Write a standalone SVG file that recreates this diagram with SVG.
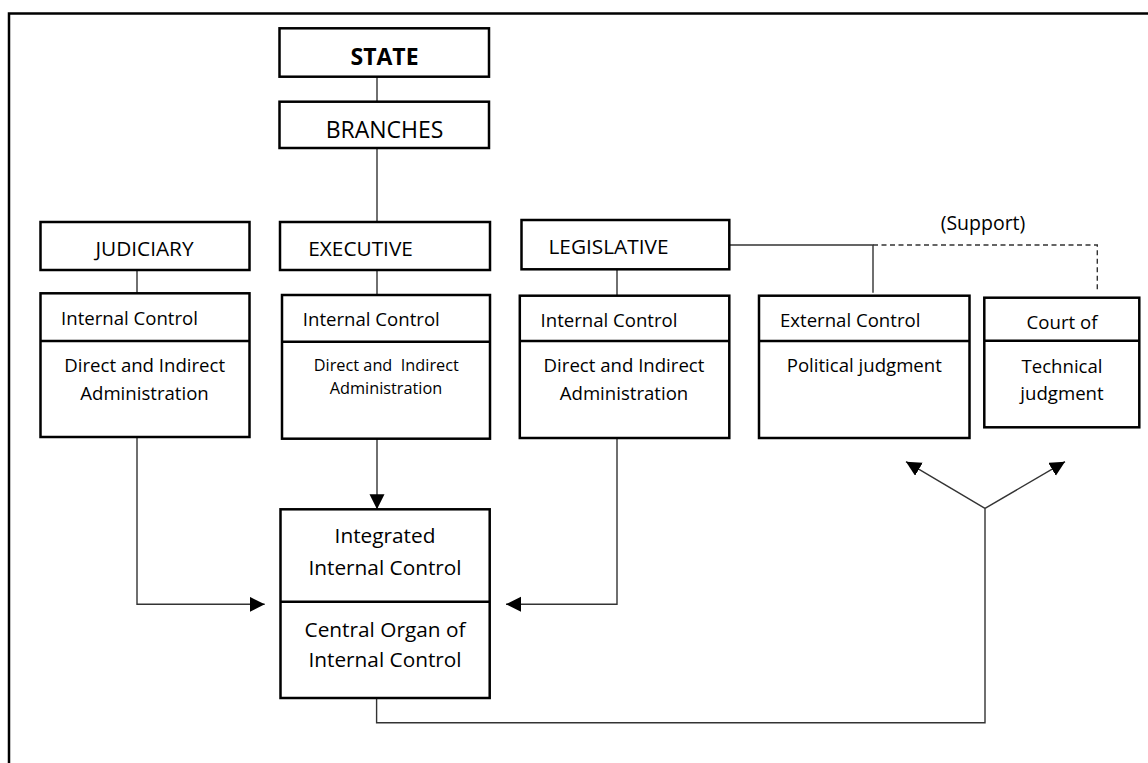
<svg xmlns="http://www.w3.org/2000/svg" width="1148" height="763" viewBox="0 0 1148 763">
<defs>
<style>
.box{fill:#fff;stroke:#000;stroke-width:2.5}
.div{stroke:#000;stroke-width:2.5;fill:none}
.ln{stroke:#333;stroke-width:1.4;fill:none}
.dash{stroke:#333;stroke-width:1.4;fill:none;stroke-dasharray:5 3.5}
text{font-family:"Open Sans","Liberation Sans",sans-serif;fill:#000;text-anchor:middle}
.big{font-size:23px}
.hd{font-size:20.8px}
.bd{font-size:18.6px}
.sm{font-size:16.3px}
</style>
<marker id="ah" markerUnits="userSpaceOnUse" markerWidth="16" markerHeight="16" refX="15" refY="7.5" orient="auto" viewBox="0 0 16 16">
<path d="M0,0 L15,7.5 L0,15 z" fill="#000"/>
</marker>
</defs>
<rect width="1148" height="763" fill="#fff"/>
<path d="M9,763 V13.5 H1148" fill="none" stroke="#000" stroke-width="2.5"/>
<g id="connectors">
<path class="ln" d="M377,77 V102"/>
<path class="ln" d="M377,148 V222"/>
<path class="ln" d="M137,270 V293"/>
<path class="ln" d="M377,270 V295"/>
<path class="ln" d="M617,269 V296"/>
<path class="ln" d="M729,245 H873 V292.7"/>
<path class="dash" d="M873,245 H1097.3 V292"/>
<path class="ln" d="M137,437 V604.3 H264.7" marker-end="url(#ah)"/>
<path class="ln" d="M377,439 V509.3" marker-end="url(#ah)"/>
<path class="ln" d="M617,438 V604.3 H506" marker-end="url(#ah)"/>
<path class="ln" d="M376.6,696 V722.7 H985 V508.3"/>
<path class="ln" d="M985,508.3 L906,461.7" marker-end="url(#ah)"/>
<path class="ln" d="M985,508.3 L1065,461.7" marker-end="url(#ah)"/>
</g>
<g id="state">
<rect class="box" x="279.5" y="28.3" width="209.5" height="48.4"/>
<text class="big" x="384.5" y="64.5" font-weight="bold">STATE</text>
</g>
<g id="branches">
<rect class="box" x="279.5" y="101.7" width="209.5" height="46.3"/>
<text class="big" x="384.6" y="138">BRANCHES</text>
</g>
<g id="judiciary">
<rect class="box" x="40.5" y="222" width="209" height="48"/>
<text class="hd" x="144.5" y="256">JUDICIARY</text>
</g>
<g id="executive">
<rect class="box" x="280" y="222" width="210" height="48"/>
<text class="hd" x="360.6" y="256">EXECUTIVE</text>
</g>
<g id="legislative">
<rect class="box" x="521.5" y="220" width="207.8" height="49.3"/>
<text class="hd" x="608.5" y="254">LEGISLATIVE</text>
</g>
<text class="bd" x="983" y="230" style="font-size:19.5px">(Support)</text>
<g id="judiciary-control">
<rect class="box" x="40.5" y="293.3" width="209" height="143.7"/>
<path class="div" d="M40.5,341 H249.5"/>
<text class="bd" x="129.5" y="325">Internal Control</text>
<text class="bd" x="144.7" y="371.7">Direct and Indirect</text>
<text class="bd" x="144.5" y="399.5">Administration</text>
</g>
<g id="executive-control">
<rect class="box" x="282" y="295" width="208" height="143.7"/>
<path class="div" d="M282,341.7 H490"/>
<text class="bd" x="371.3" y="325.5">Internal Control</text>
<text class="sm" x="386.3" y="370.5" xml:space="preserve">Direct and  Indirect</text>
<text class="sm" x="386" y="394.3">Administration</text>
</g>
<g id="legislative-control">
<rect class="box" x="519.8" y="295.7" width="209.5" height="142.3"/>
<path class="div" d="M519.8,341 H729.3"/>
<text class="bd" x="609" y="327">Internal Control</text>
<text class="bd" x="624" y="371.7">Direct and Indirect</text>
<text class="bd" x="624" y="400">Administration</text>
</g>
<g id="external-control">
<rect class="box" x="759" y="295.7" width="210.5" height="142.3"/>
<path class="div" d="M759,341 H969.5"/>
<text class="bd" x="850.2" y="327">External Control</text>
<text class="bd" x="864.3" y="371.7">Political judgment</text>
</g>
<g id="court">
<rect class="box" x="984.3" y="297.7" width="155" height="129.6"/>
<path class="div" d="M984.3,340.7 H1139.3"/>
<text class="bd" x="1062" y="328.5">Court of</text>
<text class="bd" x="1062" y="373.3">Technical</text>
<text class="bd" x="1062" y="399.5">judgment</text>
</g>
<g id="central">
<rect class="box" x="280.5" y="509.3" width="209.2" height="188.7"/>
<path class="div" d="M280.5,601.7 H489.7"/>
<text class="hd" x="385" y="543">Integrated</text>
<text class="hd" x="385" y="575">Internal Control</text>
<text class="hd" x="385" y="636.7">Central Organ of</text>
<text class="hd" x="385" y="666.7">Internal Control</text>
</g>
</svg>
